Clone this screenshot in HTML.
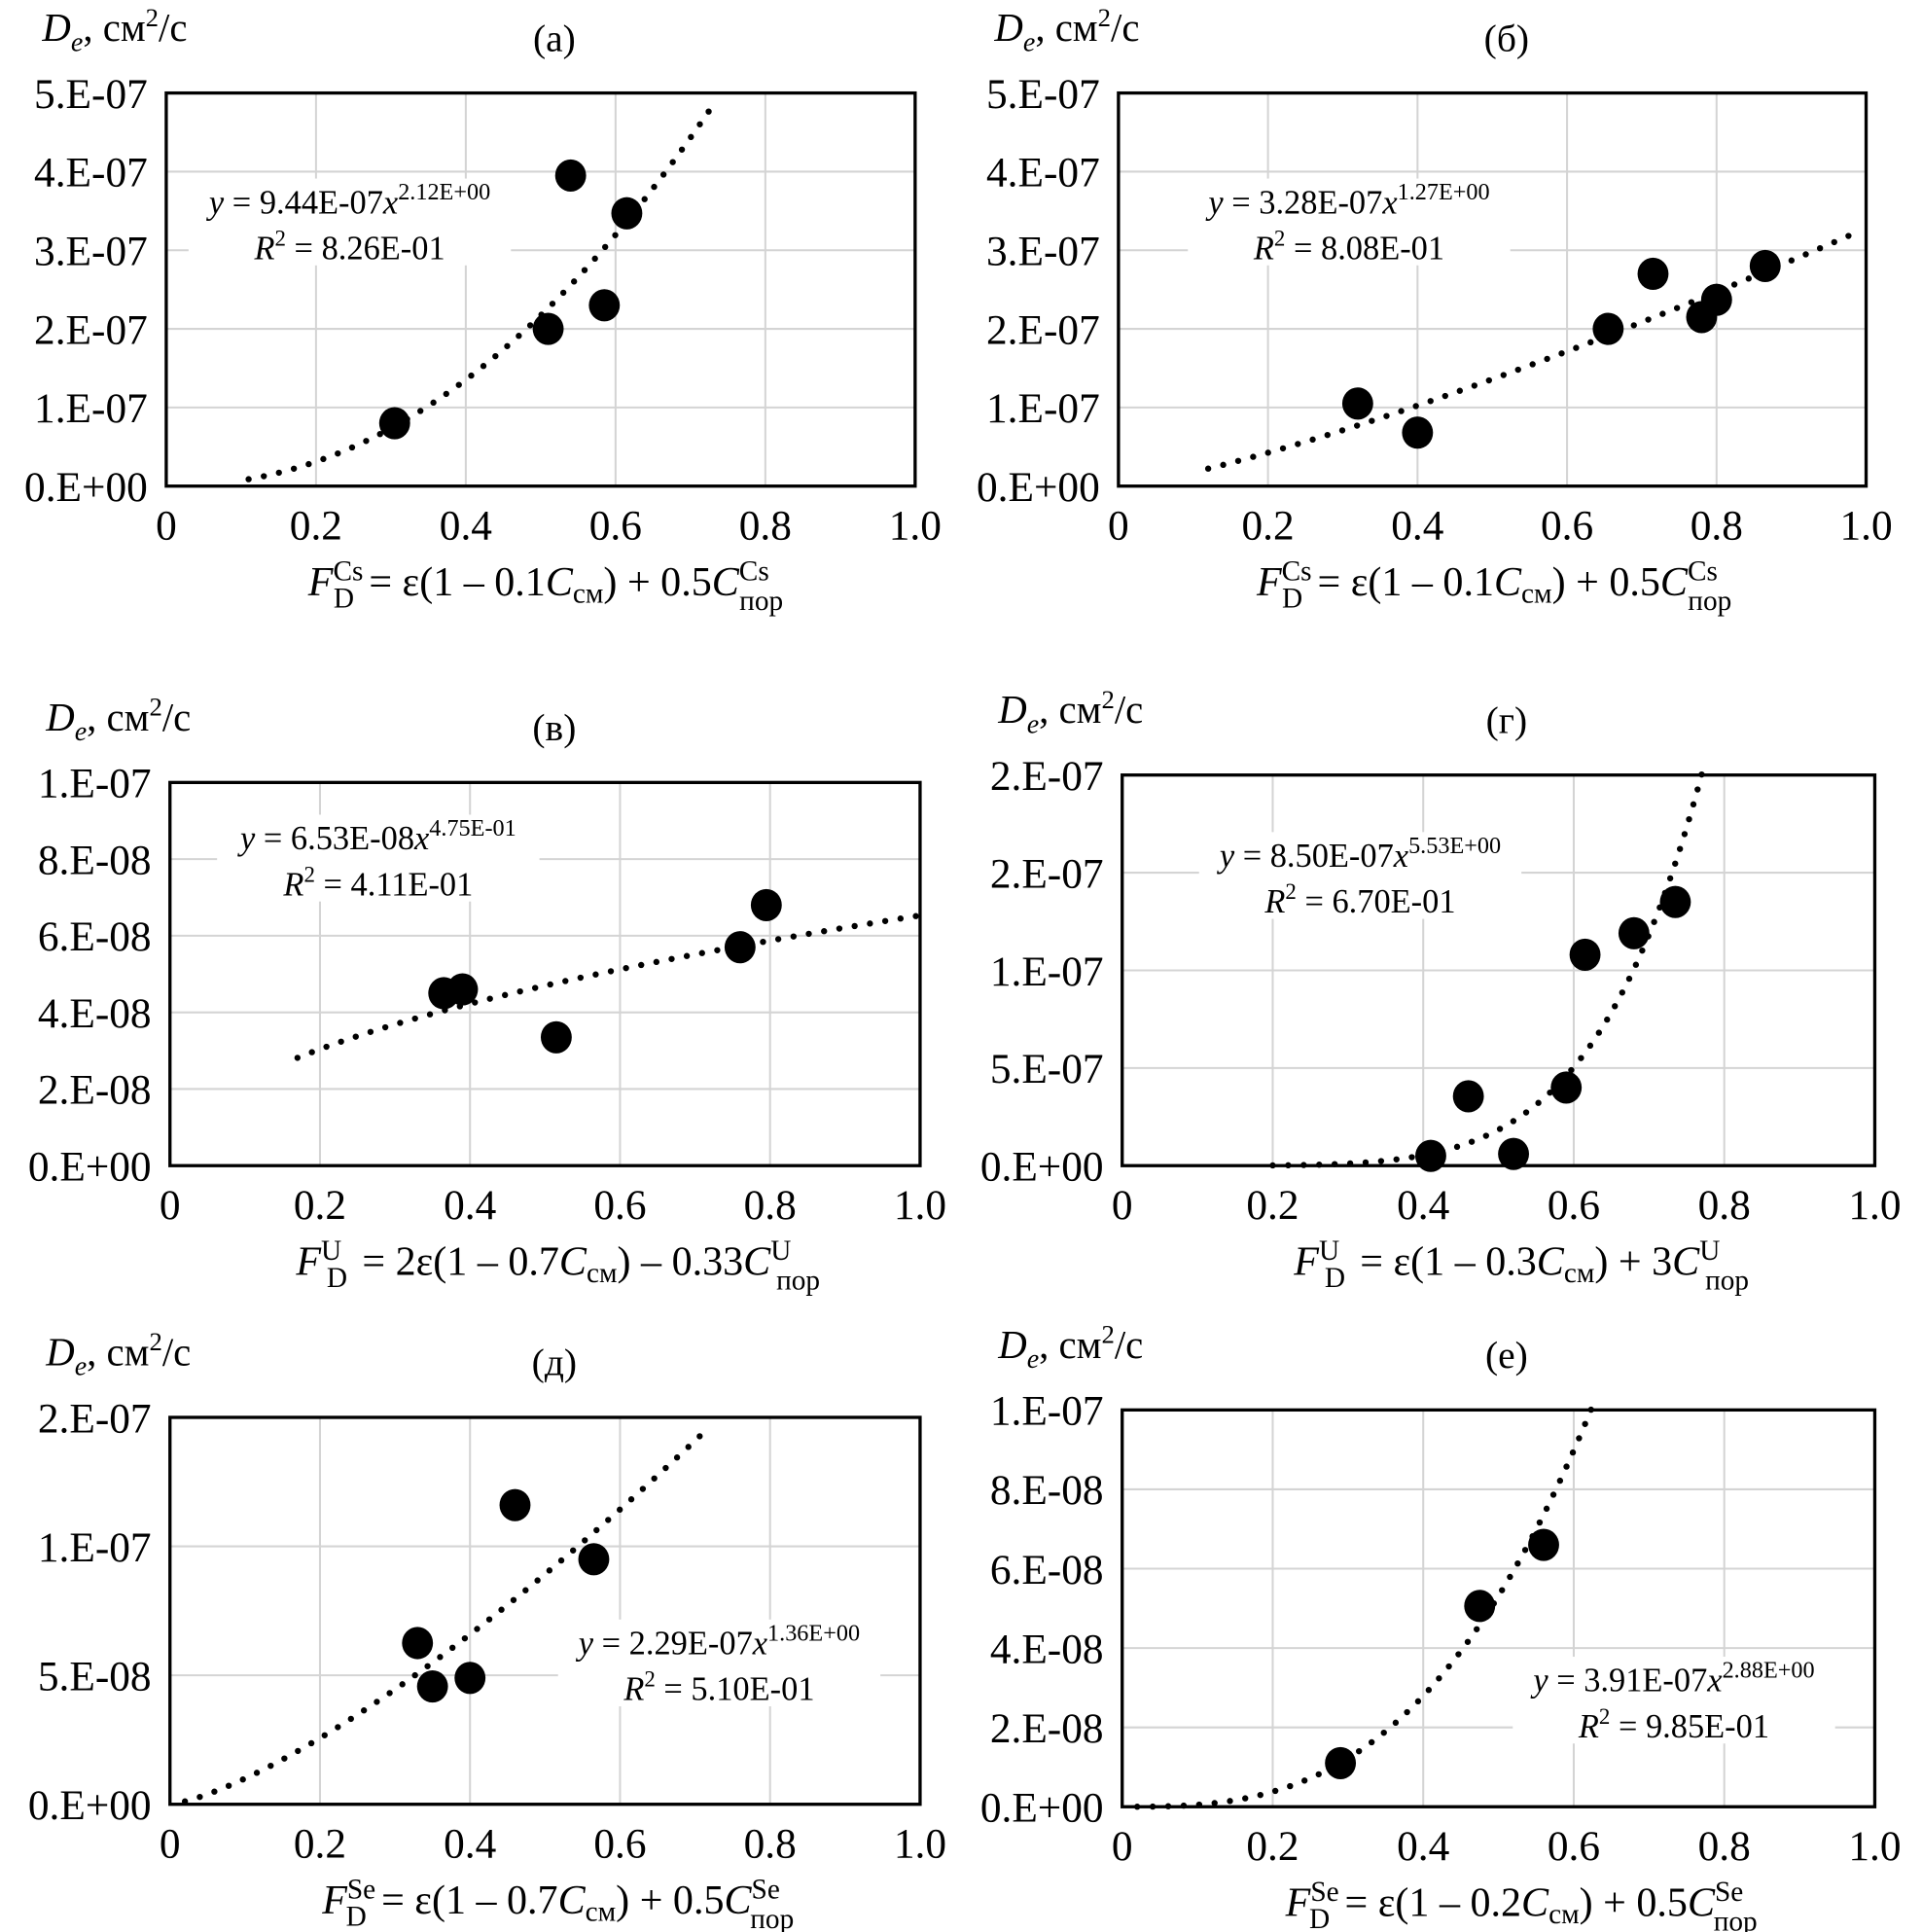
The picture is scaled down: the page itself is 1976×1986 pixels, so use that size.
<!DOCTYPE html>
<html><head><meta charset="utf-8">
<style>
html,body{margin:0;padding:0;background:#fff;}
svg{display:block;}
text{font-family:"Liberation Serif",serif;fill:#000;}
</style></head>
<body>
<svg id="chart" width="1976" height="1986" viewBox="0 0 1550 1558" xmlns="http://www.w3.org/2000/svg"></svg>
<script>
// ---- data arrays (per panel) ----
const xTicks = [0, 0.2, 0.4, 0.6, 0.8, 1.0];
const xTickLabels = ["0", "0.2", "0.4", "0.6", "0.8", "1.0"];

const aX = [0.305, 0.51, 0.54, 0.585, 0.615];
const aY = [8e-8, 2.0e-7, 3.95e-7, 2.3e-7, 3.47e-7];
const aFit = [9.44e-7, 2.12, 0.11, 0.73];
const aYTicks = [0, 1e-7, 2e-7, 3e-7, 4e-7, 5e-7];
const aYLabels = ["0.E+00","1.E-07","2.E-07","3.E-07","4.E-07","5.E-07"];

const bX = [0.32, 0.40, 0.655, 0.715, 0.78, 0.80, 0.865];
const bY = [1.05e-7, 0.68e-7, 2.0e-7, 2.7e-7, 2.15e-7, 2.37e-7, 2.8e-7];
const bFit = [3.28e-7, 1.27, 0.12, 0.99];
const bYTicks = [0, 1e-7, 2e-7, 3e-7, 4e-7, 5e-7];
const bYLabels = ["0.E+00","1.E-07","2.E-07","3.E-07","4.E-07","5.E-07"];

const vX = [0.365, 0.39, 0.515, 0.76, 0.795];
const vY = [4.5e-8, 4.6e-8, 3.35e-8, 5.7e-8, 6.8e-8];
const vFit = [6.53e-8, 0.475, 0.17, 1.0];
const vYTicks = [0, 2e-8, 4e-8, 6e-8, 8e-8, 1e-7];
const vYLabels = ["0.E+00","2.E-08","4.E-08","6.E-08","8.E-08","1.E-07"];

const gX = [0.41, 0.46, 0.52, 0.59, 0.615, 0.68, 0.735];
const gY = [0.5e-8, 3.55e-8, 0.6e-8, 4.0e-8, 1.08e-7, 1.19e-7, 1.35e-7];
const gFit = [8.5e-7, 5.53, 0.2, 0.77];
const gYTicks = [0, 5e-8, 1e-7, 1.5e-7, 2e-7];
const gYLabels = ["0.E+00","5.E-07","1.E-07","2.E-07","2.E-07"];

const dX = [0.33, 0.35, 0.40, 0.46, 0.565];
const dY = [6.25e-8, 4.57e-8, 4.9e-8, 1.16e-7, 9.5e-8];
const dFit = [2.29e-7, 1.36, 0.02, 0.72];
const dYTicks = [0, 5e-8, 1e-7, 1.5e-7];
const dYLabels = ["0.E+00","5.E-08","1.E-07","2.E-07"];

const eX = [0.29, 0.475, 0.56];
const eY = [1.1e-8, 5.06e-8, 6.6e-8];
const eFit = [3.91e-7, 2.88, 0.02, 0.625];
const eYTicks = [0, 2e-8, 4e-8, 6e-8, 8e-8, 1e-7];
const eYLabels = ["0.E+00","2.E-08","4.E-08","6.E-08","8.E-08","1.E-07"];

const NS = "http://www.w3.org/2000/svg";
const svg = document.getElementById("chart");
function mk(tag, attrs, parent){
  const e = document.createElementNS(NS, tag);
  for (const k in attrs) e.setAttribute(k, attrs[k]);
  (parent||svg).appendChild(e);
  return e;
}

const panels = [
  {id:"a", title:"(а)", X:aX, Y:aY, fit:aFit, yt:aYTicks, yl:aYLabels, box:[134,75,738,392], tx:447, eq:[282,172], eqc:"9.44E-07", eqp:"2.12E+00", r2:"8.26E-01", sup:"Cs", rhs:"= ε(1 – 0.1", rhs2:") + 0.5", labX:440},
  {id:"b", title:"(б)", X:bX, Y:bY, fit:bFit, yt:bYTicks, yl:bYLabels, box:[902,75,1505,392], tx:1215, eq:[1088,172], eqc:"3.28E-07", eqp:"1.27E+00", r2:"8.08E-01", sup:"Cs", rhs:"= ε(1 – 0.1", rhs2:") + 0.5", labX:1205},
  {id:"v", title:"(в)", X:vX, Y:vY, fit:vFit, yt:vYTicks, yl:vYLabels, box:[137,631,742,940], tx:447, eq:[305,685], eqc:"6.53E-08", eqp:"4.75E-01", r2:"4.11E-01", sup:"U", rhs:"= 2ε(1 – 0.7", rhs2:") – 0.33", labX:450},
  {id:"g", title:"(г)", X:gX, Y:gY, fit:gFit, yt:gYTicks, yl:gYLabels, box:[905,625,1512,940], tx:1215, eq:[1097,699], eqc:"8.50E-07", eqp:"5.53E+00", r2:"6.70E-01", sup:"U", rhs:"= ε(1 – 0.3", rhs2:") + 3", labX:1227},
  {id:"d", title:"(д)", X:dX, Y:dY, fit:dFit, yt:dYTicks, yl:dYLabels, box:[137,1143,742,1455], tx:447, eq:[580,1334], eqc:"2.29E-07", eqp:"1.36E+00", r2:"5.10E-01", sup:"Se", rhs:"= ε(1 – 0.7", rhs2:") + 0.5", labX:450},
  {id:"e", title:"(е)", X:eX, Y:eY, fit:eFit, yt:eYTicks, yl:eYLabels, box:[905,1137,1512,1457], tx:1215, eq:[1350,1364], eqc:"3.91E-07", eqp:"2.88E+00", r2:"9.85E-01", sup:"Se", rhs:"= ε(1 – 0.2", rhs2:") + 0.5", labX:1227}
];

panels.forEach(p => {
  const [L,T,R,B] = p.box;
  const ymax = p.yt[p.yt.length-1];
  const sx = v => L + (R-L)*v;
  const sy = v => B - (B-T)*v/ymax;
  const g = mk("g", {});
  
  

  xTicks.forEach((t,i) => {
    if (i>0 && i<xTicks.length-1) {
      const l = mk("line", {x1:sx(t), x2:sx(t), y1:T, y2:B, stroke:"#d4d4d4", "stroke-width":1.6}, g);
      
      
    }
    const tl = mk("text", {x:sx(t), y:B+43, "font-size":34, "text-anchor":"middle"}, g);
    tl.textContent = xTickLabels[i];
    
    
  });
  p.yt.forEach((t,i) => {
    if (i>0 && i<p.yt.length-1) {
      const l = mk("line", {x1:L, x2:R, y1:sy(t), y2:sy(t), stroke:"#d4d4d4", "stroke-width":1.6}, g);
      
      
    }
    const tl = mk("text", {x:L-15, y:sy(t)+12, "font-size":34, "text-anchor":"end"}, g);
    tl.textContent = p.yl[i];
    
    
  });

  const eqbg = mk("rect", {x:p.eq[0]-130, y:p.eq[1]-28, width:260, height:70, fill:"#fff"}, g);
  
  

  const [c, k, x0, x1] = p.fit;
  let d = "";
  const n = 200;
  for (let i=0;i<=n;i++){
    const x = x0 + (x1-x0)*i/n;
    d += (i?"L":"M") + sx(x).toFixed(2) + "," + sy(c*Math.pow(x,k)).toFixed(2);
  }
  const tr = mk("path", {d:d, fill:"none", stroke:"#000", "stroke-width":5, "stroke-linecap":"round", "stroke-dasharray":"0 12.5"}, g);
  
  

  p.X.forEach((x,i) => {
    const pt = mk("ellipse", {cx:sx(x), cy:sy(p.Y[i]), rx:12.5, ry:13, fill:"#000"}, g);
    
    
  });

  const fr = mk("rect", {x:L, y:T, width:R-L, height:B-T, fill:"none", stroke:"#000", "stroke-width":2.6}, g);
  
  

  const e1 = mk("text", {x:p.eq[0], y:p.eq[1], "font-size":27, "text-anchor":"middle"}, g);
  e1.innerHTML = '<tspan font-style="italic">y</tspan> = ' + p.eqc + '<tspan font-style="italic">x</tspan><tspan font-size="19" dy="-11">' + p.eqp + '</tspan>';
  
  
  const e2 = mk("text", {x:p.eq[0], y:p.eq[1]+37, "font-size":27, "text-anchor":"middle"}, g);
  e2.innerHTML = '<tspan font-style="italic">R</tspan><tspan font-size="18" dy="-11">2</tspan><tspan dy="11"> = ' + p.r2 + '</tspan>';
  
  

  const yt = mk("text", {x:L-100, y:T-42, "font-size":32}, g);
  yt.innerHTML = '<tspan font-style="italic">D</tspan><tspan font-style="italic" font-size="22" dy="8">e</tspan><tspan dy="-8">, см</tspan><tspan font-size="21" dy="-12">2</tspan><tspan dy="12">/с</tspan>';
  
  

  const ti = mk("text", {x:p.tx, y:T-34, "font-size":31, "text-anchor":"middle"}, g);
  ti.textContent = p.title;
  
  

  const xt = mk("text", {x:p.labX, y:B+88, "font-size":33, "text-anchor":"middle"}, g);
  xt.innerHTML = '<tspan font-style="italic">F</tspan><tspan font-size="23" dy="-12">' + p.sup + '</tspan><tspan font-size="23" dx="-' + (p.sup.length*12) + '" dy="22">D</tspan><tspan dx="12" dy="-10">' + p.rhs + '</tspan><tspan font-style="italic">C</tspan><tspan font-size="23" dy="6">см</tspan><tspan dy="-6">' + p.rhs2 + '</tspan><tspan font-style="italic">C</tspan><tspan font-size="23" dy="-12">' + p.sup + '</tspan><tspan font-size="23" dx="-' + (p.sup.length*12) + '" dy="24">пор</tspan>';
  
  
});
</script>
</body></html>
